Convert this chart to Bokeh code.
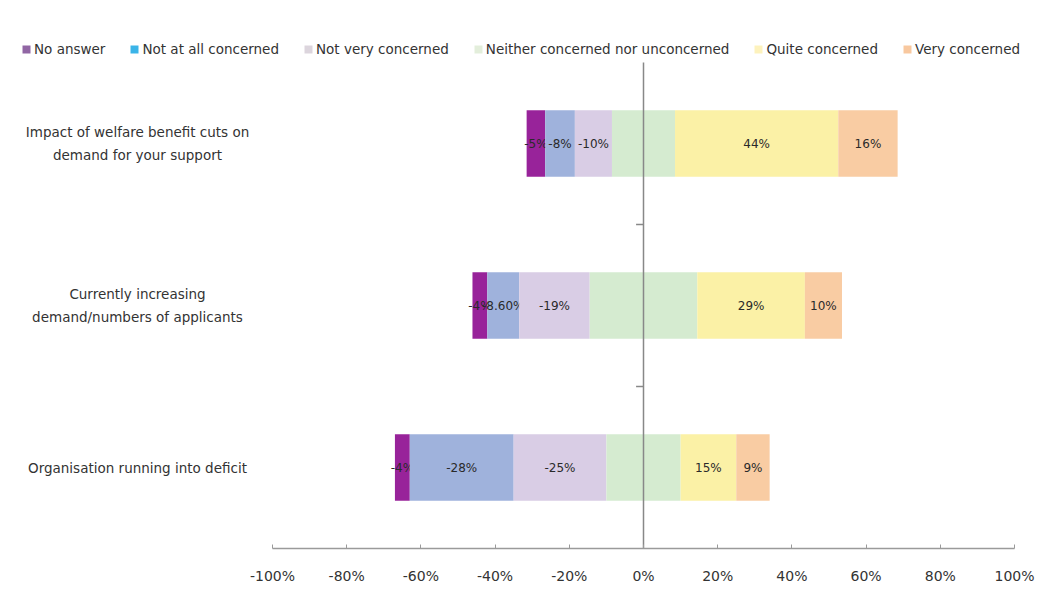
import math
from bokeh.plotting import figure
from bokeh.models import (Range1d, Label, Legend, LegendItem, FixedTicker,
                          PrintfTickFormatter)
from bokeh.core.properties import value
from bokeh.embed import file_html
from bokeh.resources import INLINE

# ---------------- data ----------------
categories = ["Impact of welfare benefit cuts on\ndemand for your support",
              "Currently increasing\ndemand/numbers of applicants",
              "Organisation running into deficit"]
series = ["No answer", "Not at all concerned", "Not very concerned",
          "Neither concerned nor unconcerned", "Quite concerned", "Very concerned"]
no_answer = [5, 4, 4]
not_at_all = [8, 8.6, 28]
not_very = [10, 19, 25]
neither = [17, 29, 20]
quite = [44, 29, 15]
very = [16, 10, 9]
no_answer_lbl = ["-5%", "-4%", "-4%"]
not_at_all_lbl = ["-8%", "-8.60%", "-28%"]
not_very_lbl = ["-10%", "-19%", "-25%"]
quite_lbl = ["44%", "29%", "15%"]
very_lbl = ["16%", "10%", "9%"]
x_ticks = [-100, -80, -60, -40, -20, 0, 20, 40, 60, 80, 100]

bar_colors = ["#98239a", "#9fb2dc", "#d9cde5", "#d5ebd0", "#fbf1a6", "#f9cca3"]
legend_colors = ["#9166a4", "#3ab4e8", "#dcd5dd", "#e3eedb", "#fdf2bd", "#f8c89f"]
FONT = "DejaVu Sans"

W, H = 1059, 596
AX_L, AX_R = 272, 1014          # pixel span of -100% .. 100%
TOP, BOTTOM = 62, 548           # pixel span of category band
n = len(categories)
xmin, xmax = x_ticks[0], x_ticks[-1]
ppu = (AX_R - AX_L) / (xmax - xmin)
x_lo = xmin - AX_L / ppu
x_hi = xmax + (W - AX_R) / ppu
ppy = (BOTTOM - TOP) / n
y_hi = n + TOP / ppy

ys = [n - i - 0.5 for i in range(n)]

# diverging stack edges
half = [v / 2 for v in neither]
r0 = [-h for h in half]
l_nv = [a - b for a, b in zip(r0, not_very)]
l_na = [a - b for a, b in zip(l_nv, not_at_all)]
l_no = [a - b for a, b in zip(l_na, no_answer)]
r_q = [h + q for h, q in zip(half, quite)]
r_v = [a + b for a, b in zip(r_q, very)]

segments = [
    (l_no, l_na, no_answer_lbl),
    (l_na, l_nv, not_at_all_lbl),
    (l_nv, r0, not_very_lbl),
    (r0, half, None),
    (half, r_q, quite_lbl),
    (r_q, r_v, very_lbl),
]

p = figure(width=W, height=H, output_backend="svg", toolbar_location=None,
           x_range=Range1d(x_lo, x_hi), y_range=Range1d(0, y_hi))
p.min_border = 0
p.min_border_bottom = H - BOTTOM
p.outline_line_color = None
p.xgrid.visible = False
p.ygrid.visible = False
p.yaxis.visible = False
p.background_fill_color = "white"
p.border_fill_color = "white"

BAR_H = 0.41
for (left, right, lbls), col in zip(segments, bar_colors):
    p.hbar(y=ys, left=left, right=right, height=BAR_H, fill_color=col, line_color=None)
    if lbls is not None:
        cx = [(a + b) / 2 for a, b in zip(left, right)]
        p.text(x=cx, y=ys, text=lbls, text_align="center", text_baseline="middle",
               text_font=value(FONT), text_font_size="12px", text_color="#2a2a2a")

# zero line (vertical axis) and category boundary ticks
p.segment(x0=[0], x1=[0], y0=[0], y1=[n], line_color="#888888", line_width=1.5)
bounds = list(range(1, n))
p.segment(x0=[-2] * len(bounds), x1=[0] * len(bounds), y0=bounds, y1=bounds,
          line_color="#888888", line_width=1.5)

# category labels
label_x = xmin - (AX_L - 137) / ppu
for cat, y in zip(categories, ys):
    p.add_layout(Label(x=label_x, y=y, text=cat, text_align="center", text_baseline="middle",
                       text_font=FONT, text_font_size="13.5px", text_color="#333333",
                       text_line_height=1.48))

# x axis
ax = p.xaxis[0]
ax.bounds = (xmin, xmax)
ax.ticker = FixedTicker(ticks=x_ticks)
ax.formatter = PrintfTickFormatter(format="%d%%")
ax.axis_line_color = "#9a9a9a"
ax.axis_line_width = 1.5
ax.major_tick_line_color = "#9a9a9a"
ax.major_tick_in = 4
ax.major_tick_out = 0
ax.minor_tick_line_color = None
ax.major_label_text_font = FONT
ax.major_label_text_font_size = "14px"
ax.major_label_text_color = "#333333"
ax.major_label_standoff = 19

# legend
items = []
for name, col in zip(series, legend_colors):
    r = p.quad(left=[math.nan], right=[math.nan], top=[math.nan], bottom=[math.nan],
               fill_color=col, line_color=None)
    items.append(LegendItem(label=name, renderers=[r]))
legend = Legend(items=items, orientation="horizontal", location=(21, 491),
                label_text_font=FONT, label_text_font_size="13.5px",
                label_text_color="#333333", glyph_width=10, glyph_height=10,
                label_standoff=3, spacing=24, padding=0, margin=0,
                border_line_alpha=0, background_fill_alpha=0)
p.add_layout(legend)

open("out.html", "w").write(file_html(p, INLINE))
